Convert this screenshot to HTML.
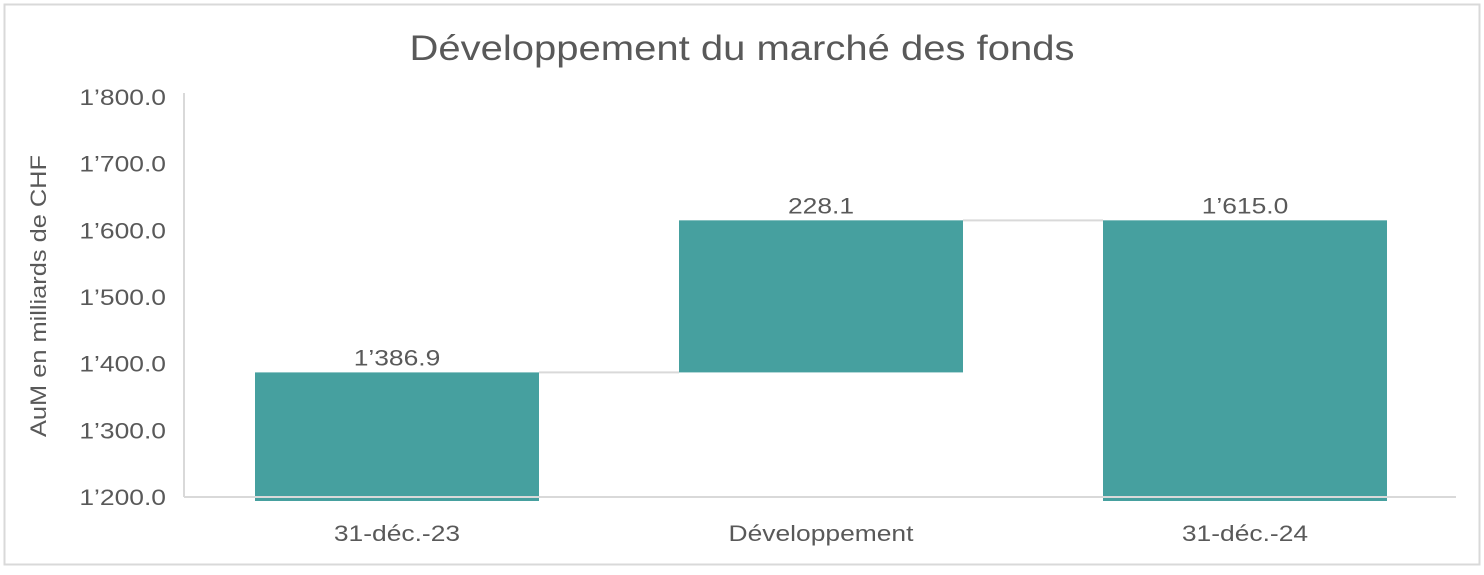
<!DOCTYPE html>
<html><head><meta charset="utf-8"><style>
body{margin:0;background:#fff;}
svg text{font-family:"Liberation Sans",sans-serif;fill:#595959;}
</style></head><body>
<svg width="1484" height="570" xmlns="http://www.w3.org/2000/svg">
<rect x="4.5" y="4.5" width="1475" height="560" fill="#fff" stroke="#d9d9d9" stroke-width="2"/>
<text x="742" y="60" font-size="35" text-anchor="middle" textLength="665" lengthAdjust="spacingAndGlyphs">Développement du marché des fonds</text>
<text transform="translate(46,296) rotate(-90)" font-size="22" text-anchor="middle" textLength="282" lengthAdjust="spacingAndGlyphs">AuM en milliards de CHF</text>
<g id="ticks"></g><g id="marks"></g>
</svg>
<script>
const categories=["31-déc.-23","Développement","31-déc.-24"];
const startValues=[1200,1386.9,1200];
const endValues=[1386.9,1615.0,1615.0];
const valueLabels=["1’386.9","228.1","1’615.0"];
const tickValues=[1200,1300,1400,1500,1600,1700,1800];
const tickLabels=["1’200.0","1’300.0","1’400.0","1’500.0","1’600.0","1’700.0","1’800.0"];
const NS="http://www.w3.org/2000/svg";
const x0=184,x1=1456,y0=497,y1=97,vmin=1200,vmax=1800;
const yS=v=>y0-(v-vmin)/(vmax-vmin)*(y0-y1);
const band=(x1-x0)/categories.length;
const xC=i=>x0+band*(i+0.5)+1;
const bw=284;
const W=1.2;
function mk(t,a,p){const e=document.createElementNS(NS,t);for(const k in a)e.setAttribute(k,a[k]);p.appendChild(e);return e;}
function stretch(el){const w=el.getComputedTextLength();el.setAttribute('textLength',w*W);el.setAttribute('lengthAdjust','spacingAndGlyphs');}
const tg=document.getElementById('ticks'),mg=document.getElementById('marks');
tickValues.forEach((v,i)=>{const t=mk('text',{x:166,y:yS(v)+8,'font-size':22,'text-anchor':'end'},tg);t.textContent=tickLabels[i];stretch(t);

});
categories.forEach((c,i)=>{
 const top=yS(Math.max(startValues[i],endValues[i])),bot=startValues[i]===vmin?y0+4:yS(Math.min(startValues[i],endValues[i]));
 const r=mk('rect',{x:xC(i)-bw/2,y:top,width:bw,height:bot-top,fill:'#46a09f'},mg);
 
 
 const l=mk('text',{x:xC(i),y:top-7,'font-size':22,'text-anchor':'middle'},mg);l.textContent=valueLabels[i];stretch(l);
 
 
 const cl=mk('text',{x:xC(i),y:541,'font-size':22,'text-anchor':'middle'},mg);cl.textContent=c;stretch(cl);
 
 
 if(i<categories.length-1){const ln=mk('line',{x1:xC(i)+bw/2,x2:xC(i+1)-bw/2,y1:yS(endValues[i]),y2:yS(endValues[i]),stroke:'#d9d9d9','stroke-width':2},mg);
 
 }
});
const ya=mk('line',{x1:x0,x2:x0,y1:y1-4,y2:y0,stroke:'#d9d9d9','stroke-width':2},mg);


const xa=mk('line',{x1:x0,x2:x1,y1:y0,y2:y0,stroke:'#d9d9d9','stroke-width':2},mg);


</script>
</body></html>
